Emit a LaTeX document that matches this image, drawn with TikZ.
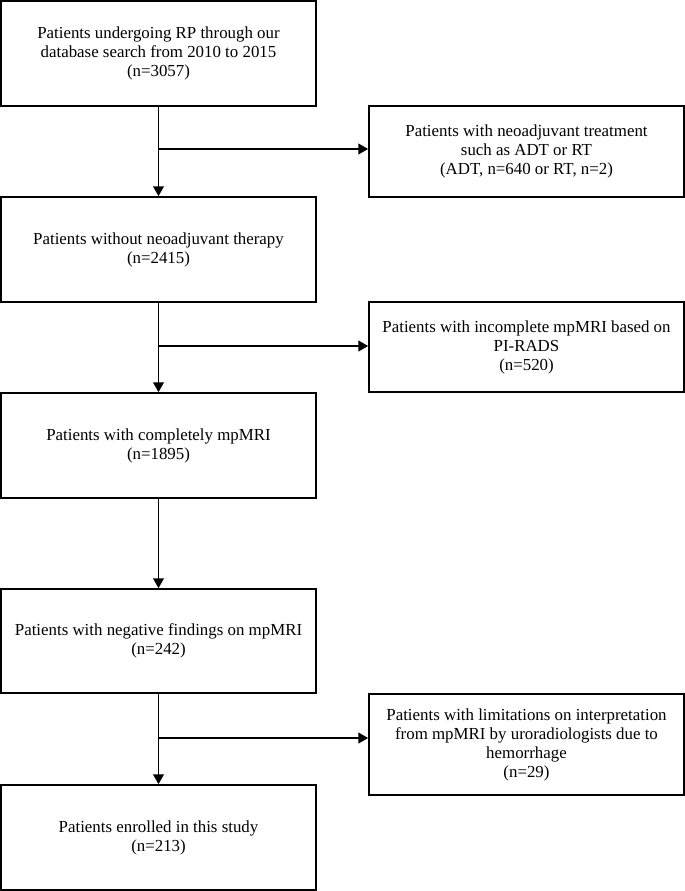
\documentclass[tikz,border=0pt]{standalone}
\usepackage{fontspec}
\setmainfont{Liberation Serif}
\usetikzlibrary{arrows.meta}

\begin{document}
\begin{tikzpicture}[x=0.02cm,y=-0.02cm]
\tikzset{StepBox/.style = {
rectangle,
draw,
line width = 1pt,
align = center,
inner sep = 2pt,
minimum width = 6.3cm,
font = \fontsize{9.6}{10.8}\selectfont}}
\tikzset{FlowArrow/.style = {
line width = 1pt,
-{Triangle[length=5.5pt,width=6pt]}}}
\useasboundingbox (0,0) rectangle (685,891);
% main path
\node[StepBox,minimum height=2.1cm] (Search) at (158.5,53.5)
{Patients undergoing RP through our\\database search from 2010 to 2015\\(n=3057)};
\node[StepBox,minimum height=2.1cm] (NoNeo) at (158.5,249.5)
{Patients without neoadjuvant therapy\\(n=2415)};
\node[StepBox,minimum height=2.1cm] (Complete) at (158.5,445.5)
{Patients with completely mpMRI\\(n=1895)};
\node[StepBox,minimum height=2.08cm] (Negative) at (158.5,641)
{Patients with negative findings on mpMRI\\(n=242)};
\node[StepBox,minimum height=2.1cm] (Enrolled) at (158.5,837.5)
{Patients enrolled in this study\\(n=213)};
% exclusions
\node[StepBox,minimum height=1.82cm] (ExNeo) at (526.5,151.5)
{Patients with neoadjuvant treatment\\such as ADT or RT\\(ADT, n=640 or RT, n=2)};
\node[StepBox,minimum height=1.8cm] (ExIncomplete) at (526.5,347)
{Patients with incomplete mpMRI based on\\PI-RADS\\(n=520)};
\node[StepBox,minimum height=2.02cm] (ExLimit) at (526.5,744.5)
{Patients with limitations on interpretation\\from mpMRI by uroradiologists due to\\hemorrhage\\(n=29)};
\coordinate (Split1) at (158.5,149);
\coordinate (Split2) at (158.5,346);
\coordinate (Split3) at (158.5,738);
\draw[FlowArrow] (Search) -- (NoNeo);
\draw[FlowArrow] (NoNeo) -- (Complete);
\draw[FlowArrow] (Complete) -- (Negative);
\draw[FlowArrow] (Negative) -- (Enrolled);
\draw[FlowArrow] (Split1) -- (Split1 -| ExNeo.west);
\draw[FlowArrow] (Split2) -- (Split2 -| ExIncomplete.west);
\draw[FlowArrow] (Split3) -- (Split3 -| ExLimit.west);
\end{tikzpicture}
\end{document}
